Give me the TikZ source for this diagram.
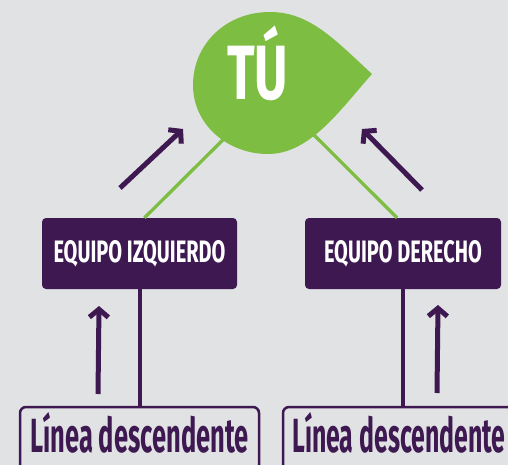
\documentclass[tikz,border=0pt]{standalone}
\usepackage{fontspec}
\setmainfont{Fira Sans}
\usepackage{graphicx}
\usetikzlibrary{arrows.meta, positioning}
\definecolor{fondo}{HTML}{E1E2E4}
\definecolor{morado}{HTML}{3E1951}
\definecolor{verde}{HTML}{7DBD42}

\begin{document}
\begin{tikzpicture}[
						x=1pt, y=-1pt,
						equipo/.style = {fill=morado, rounded corners=4pt, minimum width=195pt, minimum height=71pt, inner sep=0pt, text=white, font=\bfseries\fontsize{31pt}{31pt}\selectfont, text height=21pt, text depth=3pt},
						linea/.style = {draw=morado, line width=2.5pt, fill=fondo, rounded corners=6pt, minimum width=239pt, minimum height=64pt, inner sep=0pt, text=morado, font=\bfseries\fontsize{48pt}{48pt}\selectfont, text height=33pt, text depth=6pt},
						hoja/.style = {text=white, inner sep=0pt, font=\bfseries\fontsize{77pt}{77pt}\selectfont, text height=53pt, text depth=0pt},
						rama/.style = {draw=verde, line width=3.3pt},
						tallo/.style = {draw=morado, line width=4pt},
						flecha/.style = {draw=morado, line width=5pt, -{Straight Barb[length=8pt, width=19pt]}}
					]
\useasboundingbox (0,0) rectangle (508,465);
\clip (0,0) rectangle (508,465);
\fill[fondo] (0,0) rectangle (508,465);

\node[equipo] (izq) at (139.5,253.5) {\resizebox{172pt}{\height}{EQUIPO IZQUIERDO}};
\node[equipo, minimum width=196pt] (der) at (403,253.5) {\resizebox{158pt}{\height}{EQUIPO DERECHO}};
\node[linea] (bajoizq) at (139.5,439) {\resizebox{218pt}{\height}{Línea descendente}};
\node[linea, minimum width=232pt] (bajoder) at (399,439) {\resizebox{213pt}{\height}{Línea descendente}};

\coordinate (cruce) at (271,92);
\draw[rama] ([xshift=5pt]izq.north) -- (cruce);
\draw[rama] ([xshift=-6pt]der.north) -- (cruce);

\fill[verde] (372,74) .. controls (335,40) and (310,12) .. (270,12)
	.. controls (225,12) and (193,45) .. (193,85)
	.. controls (193,125) and (228,154) .. (268,154)
	.. controls (310,154) and (340,110) .. (372,74) -- cycle;
\node[hoja] (tu) at (257.5,73.5) {\resizebox{61pt}{\height}{TÚ}};

\draw[tallo] (izq) -- (izq |- bajoizq.north);
\draw[tallo] (der) -- (der |- bajoder.north);

\coordinate (a1) at (120,188);
\coordinate (a2) at (183,129);
\coordinate (b1) at (422,190);
\coordinate (b2) at (362,129);
\coordinate (c1) at (98,394);
\coordinate (c2) at (99,306);
\coordinate (d1) at (437,393);
\coordinate (d2) at (438,305);
\draw[flecha] (a1) -- (a2);
\draw[flecha] (b1) -- (b2);
\draw[flecha] (c1) -- (c2);
\draw[flecha] (d1) -- (d2);
\end{tikzpicture}
\end{document}
